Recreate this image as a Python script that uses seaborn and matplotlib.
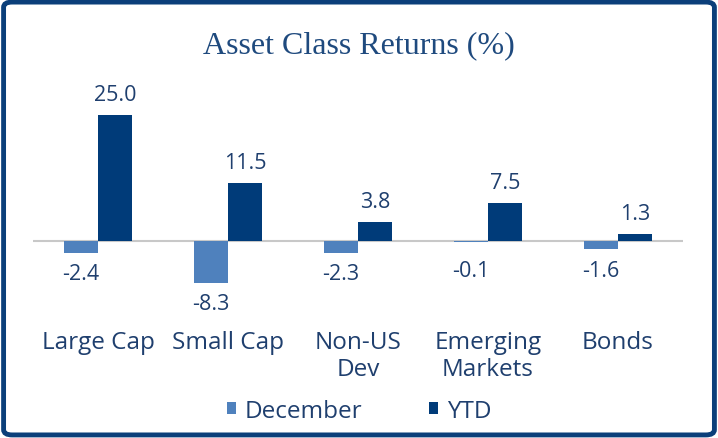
import matplotlib
matplotlib.use("Agg")
import matplotlib.pyplot as plt
import seaborn as sns
import pandas as pd
from matplotlib.patches import FancyBboxPatch, Patch

categories = ["Large Cap", "Small Cap", "Non-US\nDev", "Emerging\nMarkets", "Bonds"]
december = [-2.4, -8.3, -2.3, -0.1, -1.6]
ytd = [25.0, 11.5, 3.8, 7.5, 1.3]
series = ["December", "YTD"]

df = pd.DataFrame({
    "Category": categories * 2,
    "Series": [series[0]] * len(categories) + [series[1]] * len(categories),
    "Return": december + ytd,
})

sns.set_theme(style="white")
plt.rcParams["font.family"] = ["Open Sans", "DejaVu Sans"]

navy = "#003B79"
light = "#4F81BD"
text_c = "#1F3F6E"

fig = plt.figure(figsize=(7.18, 4.39), dpi=100)
ax = fig.add_axes([33 / 718, 139 / 439, 650 / 718, 200 / 439])
sns.barplot(data=df, x="Category", y="Return", hue="Series",
            palette=[light, navy], width=0.52, gap=0, ax=ax,
            errorbar=None, saturation=1, linewidth=0)
if ax.get_legend() is not None:
    ax.get_legend().remove()

ax.set_xlim(-0.5, 4.5)
ax.set_ylim(-11.5, 28.17)
ax.axhline(0, color="#C8C8C8", lw=1.5, zorder=0)
for s in ax.spines.values():
    s.set_visible(False)
ax.set_yticks([])
ax.set_xlabel("")
ax.set_ylabel("")
ax.tick_params(axis="x", length=0, pad=22, labelsize=17.5, labelcolor=text_c)
for lbl in ax.get_xticklabels():
    lbl.set_linespacing(1.2)

for cont in ax.containers:
    for bar in cont:
        v = bar.get_height()
        xc = bar.get_x() + bar.get_width() / 2
        if v >= 0:
            ax.annotate(f"{v:.1f}", (xc, v), xytext=(0, 15), textcoords="offset points",
                        ha="center", va="center", fontsize=15.5, color=text_c)
        else:
            ax.annotate(f"{v:.1f}", (xc, min(v, -1.8)), xytext=(0, -15), textcoords="offset points",
                        ha="center", va="center", fontsize=15.5, color=text_c)

handles = [Patch(facecolor=light, edgecolor="none"), Patch(facecolor=navy, edgecolor="none")]
fig.legend(handles, series, loc="center", bbox_to_anchor=(0.5, 27 / 439), ncol=2,
           frameon=False, fontsize=17.5, handlelength=0.38, handleheight=0.38,
           handletextpad=0.35, columnspacing=2.75, labelcolor=text_c)

fig.text(0.5, 1 - 46 / 439, "Asset Class Returns (%)", ha="center", va="center",
         family=["Liberation Serif", "DejaVu Serif"], fontsize=23, color="#1F4A7E")

border = FancyBboxPatch((0.005, 0.007), 0.99, 0.986,
                        boxstyle="round,pad=0,rounding_size=0.012",
                        transform=fig.transFigure, fill=False,
                        edgecolor="#0B3F7A", linewidth=3.5)
fig.add_artist(border)

fig.savefig("out.png", dpi=100)
